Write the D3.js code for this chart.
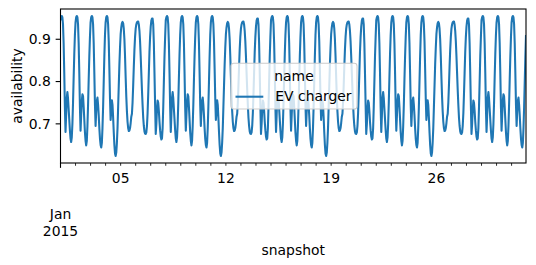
<!DOCTYPE html>
<html>
<head>
<meta charset="utf-8">
<script src="https://cdn.jsdelivr.net/npm/d3@7"></script>
<style>
  body { margin: 0; background: #fff; }
  svg { display: block; font-family: "DejaVu Sans", sans-serif; }
</style>
</head>
<body>
<div id="chart"></div>
<script>
// hourly availability (hour 0..23) for each weekday
const mon = [0.912, 0.928, 0.938, 0.941, 0.938, 0.925, 0.900, 0.860, 0.810, 0.765, 0.730, 0.705, 0.690, 0.683, 0.684, 0.690, 0.702, 0.717, 0.724, 0.750, 0.790, 0.835, 0.875, 0.905];
const tue = [0.925, 0.935, 0.940, 0.942, 0.942, 0.935, 0.920, 0.895, 0.860, 0.820, 0.780, 0.745, 0.715, 0.695, 0.682, 0.677, 0.676, 0.680, 0.695, 0.725, 0.770, 0.820, 0.870, 0.905];
const wed = [0.930, 0.944, 0.949, 0.949, 0.935, 0.890, 0.820, 0.745, 0.676, 0.700, 0.735, 0.755, 0.750, 0.730, 0.705, 0.685, 0.670, 0.663, 0.666, 0.690, 0.740, 0.800, 0.860, 0.905];
const thu = [0.945, 0.952, 0.955, 0.952, 0.935, 0.890, 0.820, 0.740, 0.681, 0.720, 0.762, 0.775, 0.760, 0.735, 0.710, 0.685, 0.665, 0.657, 0.668, 0.700, 0.750, 0.810, 0.865, 0.910];
const fri = [0.940, 0.952, 0.955, 0.952, 0.935, 0.890, 0.820, 0.740, 0.684, 0.720, 0.755, 0.770, 0.765, 0.740, 0.710, 0.680, 0.660, 0.649, 0.660, 0.695, 0.745, 0.805, 0.860, 0.905];
const sat = [0.940, 0.952, 0.955, 0.952, 0.935, 0.890, 0.820, 0.745, 0.695, 0.730, 0.755, 0.762, 0.745, 0.720, 0.690, 0.665, 0.650, 0.644, 0.655, 0.690, 0.740, 0.800, 0.860, 0.910];
const sun = [0.940, 0.952, 0.955, 0.952, 0.935, 0.895, 0.830, 0.760, 0.709, 0.730, 0.756, 0.745, 0.715, 0.680, 0.650, 0.630, 0.624, 0.632, 0.655, 0.690, 0.740, 0.790, 0.840, 0.880];
const profiles = { Mon: mon, Tue: tue, Wed: wed, Thu: thu, Fri: fri, Sat: sat, Sun: sun };

const seriesName = "EV charger";
const legendTitle = "name";
const yTicks = [0.7, 0.8, 0.9];
const firstHour = new Date(Date.UTC(2015, 0, 1, 0));
const lastHour = new Date(Date.UTC(2015, 0, 31, 23));

// one row per hourly snapshot, Jan 1 .. Jan 31
const days = d3.utcDay.range(firstHour, d3.utcDay.ceil(lastHour));
const data = days.flatMap(day =>
    profiles[d3.utcFormat("%a")(day)].map((v, h) => ({ t: d3.utcHour.offset(day, h), v })));

const width = 536, height = 265;
const plotLeft = 60.5, plotRight = 526, plotTop = 9, plotBottom = 163;
const fs = 13.9;

const svg = d3.select("#chart").append("svg")
    .attr("width", width)
    .attr("height", height);

const x = d3.scaleUtc().domain([firstHour, lastHour]).range([plotLeft, plotRight]);

const [lo, hi] = d3.extent(data, d => d.v);
const pad = (hi - lo) * 0.05;
const y = d3.scaleLinear().domain([lo - pad, hi + pad]).range([plotBottom, plotTop]);

svg.append("clipPath")
    .attr("id", "plot-clip")
  .append("rect")
    .attr("x", plotLeft)
    .attr("y", plotTop)
    .attr("width", plotRight - plotLeft)
    .attr("height", plotBottom - plotTop);

// the series
svg.append("path")
    .datum(data)
    .attr("clip-path", "url(#plot-clip)")
    .attr("fill", "none")
    .attr("stroke", "#1f77b4")
    .attr("stroke-width", 2.08)
    .attr("stroke-linejoin", "round")
    .attr("d", d3.line().x(d => x(d.t)).y(d => y(d.v)));

// y axis
const yAxis = svg.append("g")
    .attr("transform", `translate(${plotLeft},0)`)
    .call(d3.axisLeft(y).tickValues(yTicks).tickSize(4.86).tickPadding(4.86)
        .tickFormat(d3.format(".1f")).offset(0));
yAxis.select(".domain").remove();
yAxis.attr("font-family", "DejaVu Sans").attr("font-size", fs);
yAxis.selectAll("line").attr("stroke-width", 1.1);
yAxis.selectAll("text").attr("dy", "0.35em");

// x axis: daily minor ticks, Mondays labelled with the day
const weekLabel = d3.utcFormat("%d");
const xMinor = svg.append("g")
    .attr("transform", `translate(0,${plotBottom})`)
    .call(d3.axisBottom(x).tickValues(days.slice(1)).tickSize(2.78).tickPadding(6.9)
        .tickFormat(d => d.getUTCDay() === 1 ? weekLabel(d) : "").offset(0));
xMinor.select(".domain").remove();
xMinor.attr("font-family", "DejaVu Sans").attr("font-size", fs);
xMinor.selectAll("line").attr("stroke-width", 0.83);

// month start gets the major tick with month and year
const xMajor = svg.append("g")
    .attr("transform", `translate(0,${plotBottom})`)
    .call(d3.axisBottom(x).tickValues([firstHour]).tickSize(4.86).tickFormat(() => "").offset(0));
xMajor.select(".domain").remove();
xMajor.attr("font-family", "DejaVu Sans").attr("font-size", fs);
xMajor.selectAll("line").attr("stroke-width", 1.1);
const majorText = xMajor.select(".tick text").attr("dy", null).attr("y", 56);
majorText.append("tspan").attr("x", 0).text(d3.utcFormat("%b")(firstHour));
majorText.append("tspan").attr("x", 0).attr("dy", 16.7).text(d3.utcFormat("%Y")(firstHour));

// frame
svg.append("rect")
    .attr("x", plotLeft)
    .attr("y", plotTop)
    .attr("width", plotRight - plotLeft)
    .attr("height", plotBottom - plotTop)
    .attr("fill", "none")
    .attr("stroke", "#000")
    .attr("stroke-width", 1.1);

// axis titles
svg.append("text")
    .attr("x", (plotLeft + plotRight) / 2)
    .attr("y", 254.6)
    .attr("text-anchor", "middle")
    .attr("font-size", fs)
    .text("snapshot");

svg.append("text")
    .attr("transform", `translate(22,${(plotTop + plotBottom) / 2}) rotate(-90)`)
    .attr("text-anchor", "middle")
    .attr("font-size", fs)
    .text("availability");

// legend
const legend = svg.append("g").attr("transform", "translate(231,63.3)");
legend.append("rect")
    .attr("width", 126)
    .attr("height", 45.7)
    .attr("rx", 2.8)
    .attr("fill", "#fff")
    .attr("fill-opacity", 0.8)
    .attr("stroke", "#cccccc")
    .attr("stroke-width", 1.1);
legend.append("text")
    .attr("x", 63)
    .attr("y", 17.3)
    .attr("text-anchor", "middle")
    .attr("font-size", fs)
    .text(legendTitle);
legend.append("line")
    .attr("x1", 4.5)
    .attr("x2", 32.3)
    .attr("y1", 33.4)
    .attr("y2", 33.4)
    .attr("stroke", "#1f77b4")
    .attr("stroke-width", 2.08);
legend.append("text")
    .attr("x", 44.3)
    .attr("y", 37.7)
    .attr("font-size", fs)
    .text(seriesName);
</script>
</body>
</html>
